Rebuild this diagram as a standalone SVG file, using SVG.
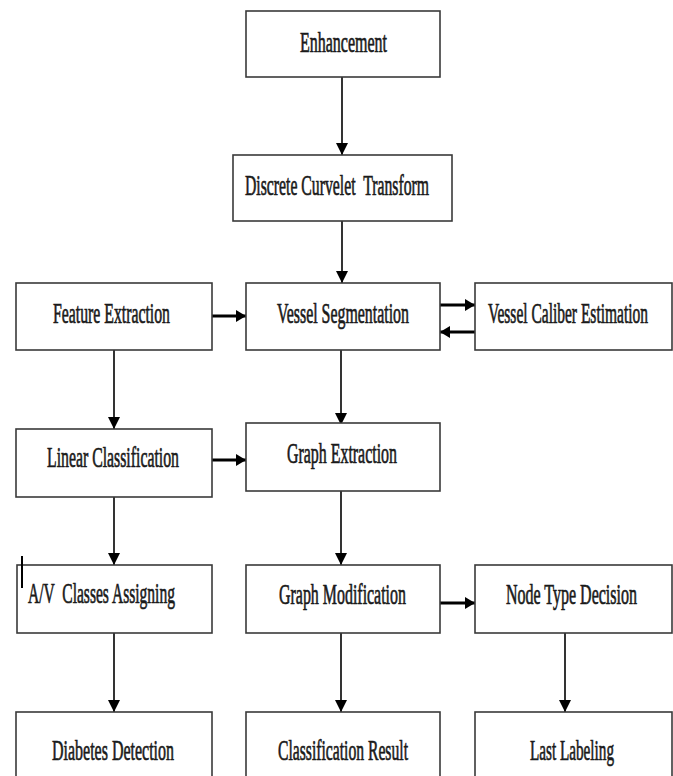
<svg xmlns="http://www.w3.org/2000/svg" width="673" height="776" viewBox="0 0 673 776">
<style>
.box{fill:#fff;stroke:#3a3a3a;stroke-width:1.6}
.lbl{font-family:"Liberation Serif","Times New Roman",serif;font-size:29px;fill:#1a1a1a;stroke:#1a1a1a;stroke-width:0.7}
.c{stroke:#000;stroke-width:1.6;fill:none}
.h{stroke:#000;stroke-width:3;fill:none}
</style>
<defs>
<marker id="arr" markerUnits="userSpaceOnUse" markerWidth="12" markerHeight="16" refX="12" refY="6" orient="auto" viewBox="0 0 12 12">
<path d="M0,0 L12,6 L0,12 z" fill="#000"/>
</marker>
<marker id="arrh" markerUnits="userSpaceOnUse" markerWidth="10" markerHeight="12" refX="10" refY="6" orient="auto" viewBox="0 0 10 12">
<path d="M0,0 L10,6 L0,12 z" fill="#000"/>
</marker>
</defs>
<rect width="673" height="776" fill="#fff"/>
<g id="connectors">
<line class="c" x1="342" y1="77" x2="342" y2="155" marker-end="url(#arr)"/>
<line class="c" x1="342" y1="221" x2="342" y2="283" marker-end="url(#arr)"/>
<line class="h" x1="212" y1="316" x2="246" y2="316" marker-end="url(#arrh)"/>
<line class="h" x1="440" y1="305" x2="475" y2="305" marker-end="url(#arrh)"/>
<line class="h" x1="475" y1="332" x2="440" y2="332" marker-end="url(#arrh)"/>
<line class="c" x1="114" y1="350" x2="114" y2="429" marker-end="url(#arr)"/>
<line class="c" x1="341" y1="350" x2="341" y2="425" marker-end="url(#arr)"/>
<line class="h" x1="212" y1="460" x2="246" y2="460" marker-end="url(#arrh)"/>
<line class="c" x1="114" y1="497" x2="114" y2="565" marker-end="url(#arr)"/>
<line class="c" x1="341" y1="491" x2="341" y2="565" marker-end="url(#arr)"/>
<line class="h" x1="440" y1="603" x2="475" y2="603" marker-end="url(#arrh)"/>
<line class="c" x1="114" y1="633" x2="114" y2="712" marker-end="url(#arr)"/>
<line class="c" x1="341" y1="633" x2="341" y2="712" marker-end="url(#arr)"/>
<line class="c" x1="565" y1="633" x2="565" y2="712" marker-end="url(#arr)"/>
</g>
<g id="n-enhancement"><rect class="box" x="246" y="11" width="194" height="66"/><text class="lbl" transform="scale(0.5,1)" x="600" y="52" textLength="174" lengthAdjust="spacingAndGlyphs">Enhancement</text></g>
<g id="n-curvelet"><rect class="box" x="233" y="155" width="219" height="66"/><text class="lbl" transform="scale(0.5,1)" x="490" y="195" textLength="368" lengthAdjust="spacingAndGlyphs" xml:space="preserve">Discrete Curvelet  Transform</text></g>
<g id="n-feature"><rect class="box" x="16" y="283" width="196" height="67"/><text class="lbl" transform="scale(0.5,1)" x="106" y="323" textLength="234" lengthAdjust="spacingAndGlyphs">Feature Extraction</text></g>
<g id="n-vesselseg"><rect class="box" x="246" y="283" width="194" height="67"/><text class="lbl" transform="scale(0.5,1)" x="554" y="323" textLength="264" lengthAdjust="spacingAndGlyphs">Vessel Segmentation</text></g>
<g id="n-caliber"><rect class="box" x="475" y="283" width="197" height="67"/><text class="lbl" transform="scale(0.5,1)" x="976" y="323" textLength="320" lengthAdjust="spacingAndGlyphs">Vessel Caliber Estimation</text></g>
<g id="n-linear"><rect class="box" x="16" y="429" width="196" height="68"/><text class="lbl" transform="scale(0.5,1)" x="94" y="467" textLength="264" lengthAdjust="spacingAndGlyphs">Linear Classification</text></g>
<g id="n-graphext"><rect class="box" x="246" y="423" width="194" height="68"/><text class="lbl" transform="scale(0.5,1)" x="574" y="463" textLength="220" lengthAdjust="spacingAndGlyphs">Graph Extraction</text></g>
<g id="n-av"><rect class="box" x="17" y="565" width="195" height="68"/><line x1="22" y1="556" x2="22" y2="588" stroke="#000" stroke-width="2"/><text class="lbl" transform="scale(0.5,1)" x="56" y="603" textLength="294" lengthAdjust="spacingAndGlyphs" xml:space="preserve">A/V  Classes Assigning</text></g>
<g id="n-graphmod"><rect class="box" x="246" y="565" width="194" height="68"/><text class="lbl" transform="scale(0.5,1)" x="558" y="604" textLength="254" lengthAdjust="spacingAndGlyphs">Graph Modification</text></g>
<g id="n-nodetype"><rect class="box" x="475" y="565" width="197" height="68"/><text class="lbl" transform="scale(0.5,1)" x="1012" y="604" textLength="262" lengthAdjust="spacingAndGlyphs">Node Type Decision</text></g>
<g id="n-diabetes"><rect class="box" x="16" y="712" width="196" height="70"/><text class="lbl" transform="scale(0.5,1)" x="104" y="760" textLength="244" lengthAdjust="spacingAndGlyphs">Diabetes Detection</text></g>
<g id="n-classres"><rect class="box" x="246" y="712" width="194" height="70"/><text class="lbl" transform="scale(0.5,1)" x="556" y="760" textLength="260" lengthAdjust="spacingAndGlyphs">Classification Result</text></g>
<g id="n-lastlabel"><rect class="box" x="475" y="712" width="197" height="70"/><text class="lbl" transform="scale(0.5,1)" x="1060" y="760" textLength="168" lengthAdjust="spacingAndGlyphs">Last Labeling</text></g>
</svg>
